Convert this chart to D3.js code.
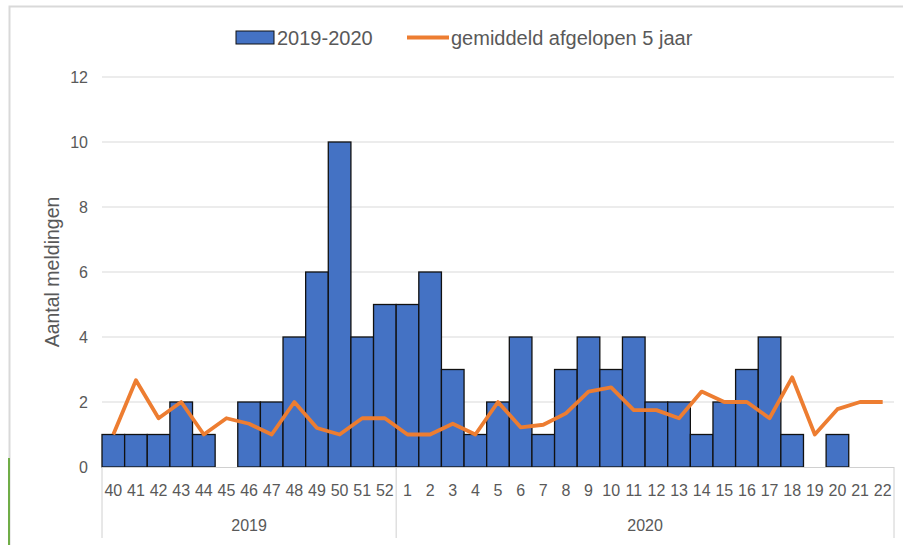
<!DOCTYPE html>
<html>
<head>
<meta charset="utf-8">
<script src="https://cdn.jsdelivr.net/npm/d3@7.9.0/dist/d3.min.js"></script>
<style>
  html, body { margin: 0; padding: 0; background: #fff; }
  svg { display: block; }
  text { font-family: "Liberation Sans", Arial, sans-serif; fill: #595959; }
</style>
</head>
<body>
<svg id="chart" width="903" height="545"></svg>
<script>
// weeks, grouped per year
const years = ["2019", "2020"];
const weeks2019 = [40, 41, 42, 43, 44, 45, 46, 47, 48, 49, 50, 51, 52];
const weeks2020 = [1, 2, 3, 4, 5, 6, 7, 8, 9, 10, 11, 12, 13, 14, 15, 16, 17, 18, 19, 20, 21, 22];

// meldingen 2019-2020
const counts = [1, 1, 1, 2, 1, 0, 2, 2, 4, 6, 10, 4, 5,
  5, 6, 3, 1, 2, 4, 1, 3, 4, 3, 4, 2, 2, 1, 2, 3, 4, 1, 0, 1, 0, 0];

// gemiddeld afgelopen 5 jaar
const avg5 = [1, 2.67, 1.5, 2, 1, 1.5, 1.33, 1, 2, 1.2, 1, 1.5, 1.5,
  1, 1, 1.33, 1, 2, 1.22, 1.3, 1.65, 2.32, 2.45, 1.75, 1.75, 1.5, 2.32, 2, 2, 1.5, 2.76, 1, 1.78, 2, 2];

const yTicks = [0, 2, 4, 6, 8, 10, 12];

const rows = [
  ...weeks2019.map((w) => ({ year: "2019", week: w })),
  ...weeks2020.map((w) => ({ year: "2020", week: w })),
].map((d, i) => ({ ...d, key: d.year + "-" + d.week, count: counts[i], avg: avg5[i] }));

const svg = d3.select("#chart");
const plotLeft = 102, plotRight = 894, plotTop = 77, plotBottom = 467;

// frame of the original picture
svg.append("path")
  .attr("d", "M9.5,545 V6.5 H903")
  .attr("fill", "none")
  .attr("stroke", "#d9d9d9")
  .attr("stroke-width", 2);
svg.append("line")
  .attr("x1", 9).attr("x2", 9).attr("y1", 458).attr("y2", 545)
  .attr("stroke", "#70ad47").attr("stroke-width", 2);

const x = d3.scaleBand().domain(rows.map((d) => d.key)).range([plotLeft, plotRight]).padding(0);
const y = d3.scaleLinear().domain([0, 12]).range([plotBottom, plotTop]);

// gridlines
svg.append("g")
  .selectAll("line")
  .data(yTicks.filter((t) => t > 0))
  .join("line")
  .attr("x1", plotLeft).attr("x2", plotRight)
  .attr("y1", (d) => y(d)).attr("y2", (d) => y(d))
  .attr("stroke", "#d9d9d9").attr("stroke-width", 1);

// y labels
svg.append("g")
  .selectAll("text")
  .data(yTicks)
  .join("text")
  .attr("x", 88)
  .attr("y", (d) => y(d))
  .attr("dy", "0.35em")
  .attr("text-anchor", "end")
  .attr("font-size", 16)
  .text((d) => d);

svg.append("text")
  .attr("transform", `translate(59,${(plotTop + plotBottom) / 2}) rotate(-90)`)
  .attr("text-anchor", "middle")
  .attr("font-size", 19.5)
  .text("Aantal meldingen");

// bars
svg.append("g")
  .selectAll("rect")
  .data(rows.filter((d) => d.count > 0))
  .join("rect")
  .attr("x", (d) => x(d.key))
  .attr("y", (d) => y(d.count))
  .attr("width", x.bandwidth())
  .attr("height", (d) => y(0) - y(d.count))
  .attr("fill", "#4472c4")
  .attr("stroke", "#111")
  .attr("stroke-width", 1.3);

// category axis
svg.append("line")
  .attr("x1", plotLeft).attr("x2", plotRight)
  .attr("y1", plotBottom + 0.5).attr("y2", plotBottom + 0.5)
  .attr("stroke", "#d0d0d0");

const yearBounds = years.map((yr) => {
  const ks = rows.filter((d) => d.year === yr).map((d) => d.key);
  return { year: yr, x0: x(ks[0]), x1: x(ks[ks.length - 1]) + x.bandwidth() };
});
const seps = [plotLeft, ...yearBounds.map((b) => b.x1)];
svg.append("g")
  .selectAll("line")
  .data(seps)
  .join("line")
  .attr("x1", (d) => d).attr("x2", (d) => d)
  .attr("y1", plotBottom).attr("y2", 538)
  .attr("stroke", "#d0d0d0");

svg.append("g")
  .selectAll("text")
  .data(rows)
  .join("text")
  .attr("x", (d) => x(d.key) + x.bandwidth() / 2)
  .attr("y", 496)
  .attr("text-anchor", "middle")
  .attr("font-size", 16)
  .text((d) => d.week);

svg.append("g")
  .selectAll("text")
  .data(yearBounds)
  .join("text")
  .attr("x", (d) => (d.x0 + d.x1) / 2)
  .attr("y", 531)
  .attr("text-anchor", "middle")
  .attr("font-size", 16)
  .text((d) => d.year);

// 5-year average line
const line = d3.line()
  .x((d) => x(d.key) + x.bandwidth() / 2)
  .y((d) => y(d.avg));
svg.append("path")
  .datum(rows)
  .attr("d", line)
  .attr("fill", "none")
  .attr("stroke", "#ed7d31")
  .attr("stroke-width", 3.8)
  .attr("stroke-linejoin", "round");

// legend
const lg = svg.append("g");
lg.append("rect")
  .attr("x", 236).attr("y", 31).attr("width", 38).attr("height", 13)
  .attr("fill", "#4472c4").attr("stroke", "#111").attr("stroke-width", 1);
lg.append("text")
  .attr("x", 277).attr("y", 45)
  .attr("font-size", 20)
  .text("2019-2020");
lg.append("line")
  .attr("x1", 407).attr("x2", 449).attr("y1", 37.5).attr("y2", 37.5)
  .attr("stroke", "#ed7d31").attr("stroke-width", 3.8);
lg.append("text")
  .attr("x", 451).attr("y", 45)
  .attr("font-size", 20)
  .text("gemiddeld afgelopen 5 jaar");
</script>
</body>
</html>
